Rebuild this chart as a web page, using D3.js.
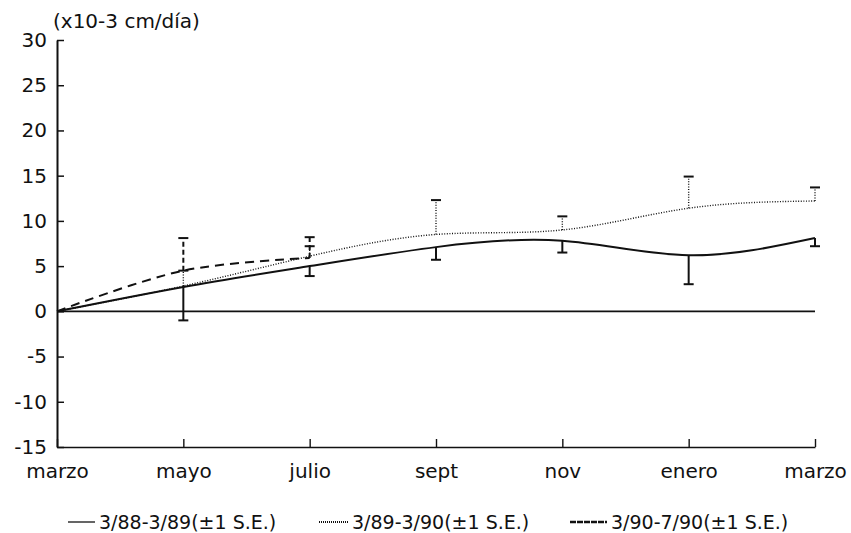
<!DOCTYPE html>
<html><head><meta charset="utf-8">
<script src="https://cdn.jsdelivr.net/npm/d3@7"></script>
<style>
body{margin:0;background:#fff;}
svg text{font-family:"DejaVu Sans",sans-serif;fill:#111;}
</style></head>
<body>
<svg id="chart" width="851" height="533"></svg>
<script>
// ---- data ----
const months = ["marzo","mayo","julio","sept","nov","enero","marzo"];
const yTicks = [-15,-10,-5,0,5,10,15,20,25,30];
const yTickLabels = ["-15","-10","-5","0","5","10","15","20","25","30"];
const yLabel = "(x10-3 cm/día)";
const seriesNames = ["3/88-3/89(±1 S.E.)","3/89-3/90(±1 S.E.)","3/90-7/90(±1 S.E.)"];
const s1 = [0, 2.7, 5.0, 7.1, 7.8, 6.2, 8.1];
const s1Err = [null, -1.0, 3.9, 5.7, 6.5, 3.0, 7.2];
const s2 = [0, 2.8, 6.1, 8.5, 9.0, 11.4, 12.2];
const s2Err = [null, 4.5, 7.2, 12.3, 10.5, 14.9, 13.7];
const s3 = [0, 4.5, 5.9];
const s3Err = [null, 8.1, 8.2];

const styles = [
  {width:2, dash:null, legW:1.3, legDash:null},
  {width:1.4, dash:"1,1.6", legW:2, legDash:"1,1"},
  {width:2, dash:"9,6", legW:2.5, legDash:"6,1"}
];
const series = [
  {vals:s1, err:s1Err, curve:d3.curveNatural},
  {vals:s2, err:s2Err, curve:d3.curveNatural},
  {vals:s3, err:s3Err, curve:d3.curveCatmullRom.alpha(0.5)}
];

const svg = d3.select("#chart");
const x = d3.scalePoint().domain(d3.range(months.length)).range([57, 815]);
const y = d3.scaleLinear().domain([-15, 30]).range([447, 40]);

// zero reference line
svg.append("line")
  .attr("x1", x(0)).attr("x2", x(months.length-1))
  .attr("y1", y(0)).attr("y2", y(0))
  .attr("stroke", "#111").attr("stroke-width", 1.6);

// axes
const yAxis = d3.axisLeft(y).tickValues(yTicks)
  .tickFormat((d,i) => yTickLabels[i])
  .tickSizeInner(-7).tickSizeOuter(0).tickPadding(10);
const gy = svg.append("g").attr("transform", `translate(${x(0)},0)`).call(yAxis);
gy.select(".domain").attr("stroke", "#111").attr("stroke-width", 2);
gy.selectAll(".tick line").attr("stroke", "#111").attr("stroke-width", 1.5);
gy.selectAll(".tick text").attr("font-size", 20).attr("font-family", "DejaVu Sans").attr("fill", "#111");

const xAxis = d3.axisBottom(x).tickFormat(i => months[i])
  .tickSizeInner(-8).tickSizeOuter(0).tickPadding(17);
const gx = svg.append("g").attr("transform", `translate(0,${y(-15)})`).call(xAxis);
gx.select(".domain").attr("stroke", "#111").attr("stroke-width", 1.6);
gx.selectAll(".tick line").attr("stroke", "#111").attr("stroke-width", 1.4);
gx.selectAll(".tick text").attr("font-size", 20).attr("font-family", "DejaVu Sans").attr("fill", "#111");

// y unit label
svg.append("text").attr("x", 53).attr("y", 28)
  .attr("font-size", 20).text(yLabel);

// lines
series.forEach((s, k) => {
  const line = d3.line().x((d,i) => x(i)).y(d => y(d)).curve(s.curve);
  svg.append("path").datum(s.vals)
    .attr("d", line)
    .attr("fill", "none").attr("stroke", "#111")
    .attr("stroke-width", styles[k].width)
    .attr("stroke-dasharray", styles[k].dash);
});

// error bars (one-sided, ±1 S.E.)
series.forEach((s, k) => {
  const g = svg.append("g");
  s.err.forEach((e, i) => {
    if (e === null) return;
    g.append("line")
      .attr("x1", x(i)).attr("x2", x(i))
      .attr("y1", y(s.vals[i])).attr("y2", y(e))
      .attr("stroke", "#111").attr("stroke-width", k === 1 ? 1.4 : 2)
      .attr("stroke-dasharray", k === 0 ? null : (k === 1 ? "1,1.6" : "5,3"));
    g.append("line")
      .attr("x1", x(i) - 5).attr("x2", x(i) + 5)
      .attr("y1", y(e)).attr("y2", y(e))
      .attr("stroke", "#111").attr("stroke-width", 2);
  });
});

// legend
const legX = [68, 319, 570];
const legLen = [27, 29, 37];
seriesNames.forEach((name, k) => {
  svg.append("line")
    .attr("x1", legX[k]).attr("x2", legX[k] + legLen[k])
    .attr("y1", 522).attr("y2", 522)
    .attr("stroke", "#111").attr("stroke-width", styles[k].legW)
    .attr("stroke-dasharray", styles[k].legDash);
  svg.append("text")
    .attr("x", legX[k] + legLen[k] + 4).attr("y", 529)
    .attr("font-size", 19).text(name);
});
</script>
</body></html>
